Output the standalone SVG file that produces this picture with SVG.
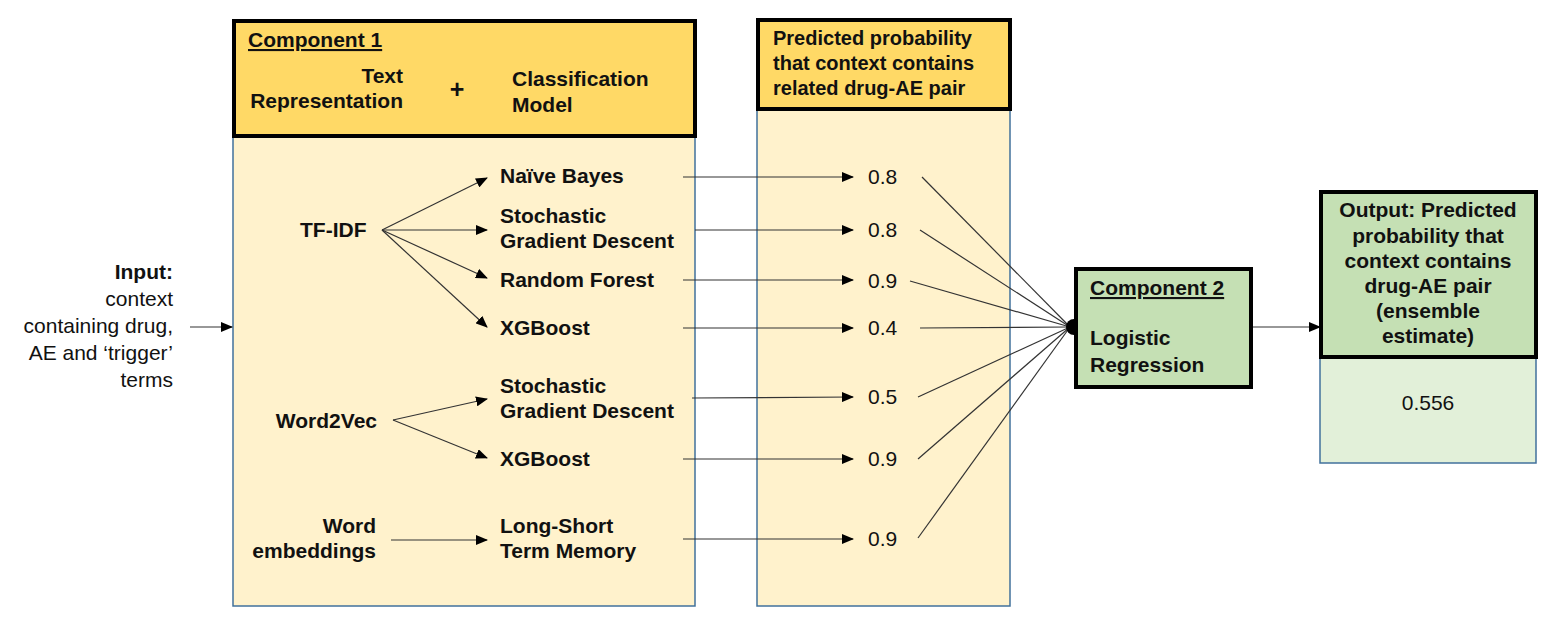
<svg xmlns="http://www.w3.org/2000/svg" width="1549" height="624" viewBox="0 0 1549 624">
<defs>
<marker id="ah" markerWidth="12" markerHeight="10" refX="11" refY="5" orient="auto" markerUnits="userSpaceOnUse">
<path d="M0,0 L12,5 L0,10 Z" fill="#000"/>
</marker>
<style>
.b{font-family:"Liberation Sans",Arial,sans-serif;font-weight:bold;font-size:21px;fill:#111}
.r{font-family:"Liberation Sans",Arial,sans-serif;font-size:21px;fill:#111}
.hdrY{fill:#FFD966;stroke:#000;stroke-width:4}
.bodyY{fill:#FFF2CC;stroke:#41719C;stroke-width:1.5}
.hdrG{fill:#C5E0B4;stroke:#000;stroke-width:4}
.bodyG{fill:#E2F0D9;stroke:#41719C;stroke-width:1.5}
.ln{stroke:#333;stroke-width:1.2;fill:none}
.ar{stroke:#333;stroke-width:1.2;fill:none;marker-end:url(#ah)}
</style>
</defs>
<rect width="1549" height="624" fill="#fff"/>

<g id="component1">
<rect class="bodyY" x="233" y="135" width="462" height="471"/>
<rect class="hdrY" x="234" y="21" width="461" height="115"/>
<text class="b" x="248" y="47" text-decoration="underline">Component 1</text>
<text class="b" x="403" y="83" text-anchor="end">Text</text>
<text class="b" x="403" y="108" text-anchor="end">Representation</text>
<text class="b" x="457" y="98" text-anchor="middle" style="font-size:25px">+</text>
<text class="b" x="512" y="86">Classification</text>
<text class="b" x="512" y="112">Model</text>
</g>

<g id="predicted">
<rect class="bodyY" x="757" y="108" width="253" height="498"/>
<rect class="hdrY" x="758" y="20" width="252" height="89"/>
<text class="b" x="773" y="45" style="font-size:20px">Predicted probability</text>
<text class="b" x="773" y="70" style="font-size:20px">that context contains</text>
<text class="b" x="773" y="95" style="font-size:20px">related drug-AE pair</text>
</g>

<g id="input">
<text class="b" x="173" y="279" text-anchor="end">Input:</text>
<text class="r" x="173" y="306" text-anchor="end">context</text>
<text class="r" x="173" y="333" text-anchor="end">containing drug,</text>
<text class="r" x="173" y="360" text-anchor="end">AE and ‘trigger’</text>
<text class="r" x="173" y="387" text-anchor="end">terms</text>
</g>

<g id="representations">
<text class="b" x="300" y="237">TF-IDF</text>
<text class="b" x="377" y="428" text-anchor="end">Word2Vec</text>
<text class="b" x="376" y="533" text-anchor="end">Word</text>
<text class="b" x="376" y="558" text-anchor="end">embeddings</text>
</g>

<g id="models">
<text class="b" x="500" y="183">Naïve Bayes</text>
<text class="b" x="500" y="223">Stochastic</text>
<text class="b" x="500" y="248">Gradient Descent</text>
<text class="b" x="500" y="287">Random Forest</text>
<text class="b" x="500" y="335">XGBoost</text>
<text class="b" x="500" y="393">Stochastic</text>
<text class="b" x="500" y="418">Gradient Descent</text>
<text class="b" x="500" y="466">XGBoost</text>
<text class="b" x="500" y="533">Long-Short</text>
<text class="b" x="500" y="558">Term Memory</text>
</g>

<g id="values">
<text class="r" x="868" y="184">0.8</text>
<text class="r" x="868" y="237">0.8</text>
<text class="r" x="868" y="288">0.9</text>
<text class="r" x="868" y="335">0.4</text>
<text class="r" x="868" y="404">0.5</text>
<text class="r" x="868" y="466">0.9</text>
<text class="r" x="868" y="546">0.9</text>
</g>

<g id="connectors">
<line class="ar" x1="190" y1="327" x2="232" y2="327"/>
<line class="ar" x1="382" y1="230" x2="487" y2="178"/>
<line class="ar" x1="382" y1="230" x2="487" y2="230"/>
<line class="ar" x1="382" y1="230" x2="487" y2="278"/>
<line class="ar" x1="382" y1="230" x2="487" y2="327"/>
<line class="ar" x1="393" y1="420" x2="487" y2="399"/>
<line class="ar" x1="393" y1="420" x2="487" y2="458"/>
<line class="ar" x1="391" y1="540" x2="487" y2="540"/>
<line class="ar" x1="683" y1="177" x2="853" y2="177"/>
<line class="ar" x1="695" y1="230" x2="853" y2="230"/>
<line class="ar" x1="683" y1="280" x2="853" y2="280"/>
<line class="ar" x1="683" y1="328" x2="853" y2="328"/>
<line class="ar" x1="692" y1="398" x2="853" y2="397"/>
<line class="ar" x1="683" y1="459" x2="853" y2="459"/>
<line class="ar" x1="683" y1="539" x2="853" y2="539"/>
<line class="ln" x1="922" y1="177" x2="1070" y2="327"/>
<line class="ln" x1="920" y1="230" x2="1070" y2="327"/>
<line class="ln" x1="910" y1="281" x2="1070" y2="327"/>
<line class="ln" x1="920" y1="328" x2="1070" y2="327"/>
<line class="ln" x1="918" y1="397" x2="1070" y2="327"/>
<line class="ln" x1="918" y1="459" x2="1070" y2="327"/>
<line class="ln" x1="918" y1="538" x2="1070" y2="327"/>
<circle cx="1074" cy="327" r="8" fill="#000"/>
<line class="ar" x1="1251" y1="327" x2="1320" y2="327"/>
</g>

<g id="component2">
<rect class="hdrG" x="1076" y="269" width="175" height="118"/>
<text class="b" x="1090" y="295" text-decoration="underline">Component 2</text>
<text class="b" x="1090" y="345">Logistic</text>
<text class="b" x="1090" y="372">Regression</text>
</g>

<g id="output">
<rect class="bodyG" x="1320" y="355" width="216" height="108"/>
<rect class="hdrG" x="1321" y="192" width="215" height="165"/>
<text class="b" x="1428" y="217" text-anchor="middle">Output: Predicted</text>
<text class="b" x="1428" y="243" text-anchor="middle">probability that</text>
<text class="b" x="1428" y="268" text-anchor="middle">context contains</text>
<text class="b" x="1428" y="293" text-anchor="middle">drug-AE pair</text>
<text class="b" x="1428" y="318" text-anchor="middle">(ensemble</text>
<text class="b" x="1428" y="343" text-anchor="middle">estimate)</text>
<text class="r" x="1428" y="410" text-anchor="middle">0.556</text>
</g>
</svg>
